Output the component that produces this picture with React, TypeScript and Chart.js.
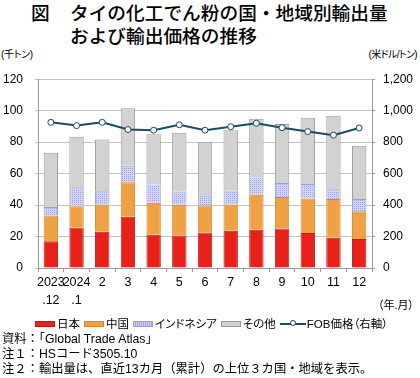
import React, { useEffect, useRef } from "react";
import { Chart, registerables } from "chart.js";

Chart.register(...registerables);

const categories: string[][] = [
  ["2023", ".12"], ["2024", ".1"], ["2"], ["3"], ["4"], ["5"], ["6"],
  ["7"], ["8"], ["9"], ["10"], ["11"], ["12"],
];
const japan = [17.0, 25.8, 23.1, 32.5, 21.2, 20.7, 22.6, 23.7, 24.3, 25.1, 22.2, 19.3, 18.5];
const china = [16.3, 13.4, 17.3, 22.0, 20.3, 19.5, 17.2, 16.7, 22.2, 20.1, 22.0, 24.5, 17.6];
const indonesia = [5.5, 12.1, 8.4, 10.5, 11.5, 8.4, 7.1, 8.8, 11.1, 8.8, 9.2, 6.3, 7.7];
const others = [34.5, 32.1, 32.9, 36.6, 32.0, 37.4, 33.1, 38.4, 37.3, 37.5, 42.1, 46.6, 33.9];
const fobPrice = [926, 905, 926, 880, 876, 910, 876, 898, 920, 892, 867, 844, 890];

const leftTicks = { min: 0, max: 120, step: 20 };
const rightTicks = { min: 0, max: 1200, step: 200 };

const JP = '"Liberation Sans", Arial, "Noto Sans CJK JP", sans-serif';

function makePattern(): CanvasPattern | string {
  const c = document.createElement("canvas");
  c.width = 2;
  c.height = 2;
  const g = c.getContext("2d");
  if (!g) return "#c8cbf0";
  g.fillStyle = "#d3d5f5";
  g.fillRect(0, 0, 2, 2);
  g.fillStyle = "#9da2e0";
  g.fillRect(0, 0, 1, 1);
  const p = g.createPattern(c, "repeat");
  return p || "#c8cbf0";
}

const legendItems = [
  { label: "日本", kind: "box", fill: "#e8221b", border: "#c41812" },
  { label: "中国", kind: "box", fill: "#f0a144", border: "#d8862c" },
  { label: "インドネシア", kind: "dots", fill: "#d3d5f5", border: "#9a9dd4" },
  { label: "その他", kind: "box", fill: "#d2d2d2", border: "#9a9a9a" },
  { label: "FOB価格（右軸）", kind: "line", fill: "#1d4a66", border: "#1d4a66" },
];

export default function App() {
  const ref = useRef<HTMLCanvasElement | null>(null);

  useEffect(() => {
    if (!ref.current) return;
    const pattern = makePattern();
    const barCommon = {
      type: "bar" as const,
      yAxisID: "y",
      stack: "s",
      order: 1,
      borderWidth: 1,
      barPercentage: 0.56,
      categoryPercentage: 1,
    };
    const chart = new Chart(ref.current, {
      type: "bar",
      data: {
        labels: categories,
        datasets: [
          { ...barCommon, label: "日本", data: japan, backgroundColor: "#e8221b", borderColor: "#c41812" },
          { ...barCommon, label: "中国", data: china, backgroundColor: "#f0a144", borderColor: "#d8862c" },
          { ...barCommon, label: "インドネシア", data: indonesia, backgroundColor: pattern as any, borderColor: "#9a9dd4" },
          { ...barCommon, label: "その他", data: others, backgroundColor: "#d2d2d2", borderColor: "#9a9a9a" },
          {
            type: "line",
            label: "FOB価格（右軸）",
            data: fobPrice,
            yAxisID: "y1",
            order: 0,
            borderColor: "#1d4a66",
            borderWidth: 2,
            pointRadius: 3,
            pointBorderWidth: 1,
            pointBackgroundColor: "#ffffff",
            pointBorderColor: "#1d4a66",
            tension: 0,
          } as any,
        ],
      },
      options: {
        responsive: false,
        animation: false,
        maintainAspectRatio: false,
        layout: { padding: { top: 17, left: 0, right: 0, bottom: 0 } },
        plugins: {
          legend: { display: false },
          tooltip: { enabled: false },
          title: { display: false },
        },
        scales: {
          x: {
            stacked: true,
            grid: {
              drawOnChartArea: false,
              drawTicks: true,
              tickLength: 4,
              color: "#9a9a9a",
              offset: true,
            },
            border: { display: true, color: "#9a9a9a" },
            ticks: {
              color: "#000",
              font: { family: JP, size: 12.5, lineHeight: 1.4 },
              padding: 2,
              maxRotation: 0,
              autoSkip: false,
            },
            afterFit: (s: any) => { s.height = 50; },
          },
          y: {
            position: "left",
            stacked: true,
            min: leftTicks.min,
            max: leftTicks.max,
            grid: { color: "#c4c4c4", tickLength: 3, drawTicks: true },
            border: { display: true, color: "#9a9a9a" },
            ticks: {
              stepSize: leftTicks.step,
              color: "#000",
              font: { family: JP, size: 12 },
              padding: 12,
            },
            afterFit: (s: any) => { s.width = 38; },
          },
          y1: {
            position: "right",
            min: rightTicks.min,
            max: rightTicks.max,
            grid: { drawOnChartArea: false, tickLength: 3, color: "#9a9a9a" },
            border: { display: true, color: "#9a9a9a" },
            ticks: {
              stepSize: rightTicks.step,
              color: "#000",
              font: { family: JP, size: 12 },
              padding: 8,
              callback: (v: any) => Number(v).toLocaleString("en-US"),
            },
            afterFit: (s: any) => { s.width = 48; },
          },
        },
      },
    });
    return () => chart.destroy();
  }, []);

  const jpText: React.CSSProperties = {
    fontFamily: JP,
    fontFeatureSettings: '"palt"',
    color: "#000",
    position: "absolute",
    whiteSpace: "nowrap",
  };

  return (
    <div style={{ position: "fixed", left: 0, top: 0, width: 420, height: 378, background: "#fff", overflow: "hidden" }}>
      <div style={{ ...jpText, fontFeatureSettings: "normal", fontFamily: '"Noto Sans CJK JP", sans-serif', fontWeight: 500, fontSize: 18.7, lineHeight: "23px", left: 31, top: 0 }}>図</div>
      <div style={{ ...jpText, fontFeatureSettings: "normal", fontFamily: '"Noto Sans CJK JP", sans-serif', fontWeight: 500, fontSize: 18.7, lineHeight: "23px", left: 70, top: 0 }}>
        タイの化工でん粉の国・地域別輸出量<br />および輸出価格の推移
      </div>
      <div style={{ ...jpText, fontSize: 10, letterSpacing: -0.3, lineHeight: "14px", left: 1, top: 48 }}>(千トン)</div>
      <div style={{ ...jpText, fontSize: 10, letterSpacing: -0.6, lineHeight: "14px", right: 3, top: 48 }}>(米ドル/トン)</div>
      <canvas ref={ref} width={420} height={258} style={{ position: "absolute", left: 0, top: 60, width: 420, height: 258 }} />
      <div style={{ ...jpText, fontSize: 11, lineHeight: "14px", right: 6, top: 298 }}>（年.月）</div>
      <div style={{ ...jpText, fontSize: 11.5, lineHeight: "14px", left: 35, top: 317, display: "flex", alignItems: "center" }}>
        {legendItems.map((it, i) => (
          <span key={i} style={{ display: "flex", alignItems: "center", marginRight: 4 }}>
            {it.kind === "line" ? (
              <span style={{ position: "relative", display: "inline-block", width: 26, height: 8, marginRight: 1 }}>
                <span style={{ position: "absolute", left: 0, top: 3, width: 26, height: 2, background: it.fill }} />
                <span style={{ position: "absolute", left: 10, top: 0, width: 4, height: 4, border: `1px solid ${it.border}`, borderRadius: "50%", background: "#fff" }} />
              </span>
            ) : (
              <span
                style={{
                  display: "inline-block",
                  width: 18,
                  height: 4,
                  marginRight: 2,
                  background: it.kind === "dots"
                    ? `repeating-linear-gradient(90deg, ${it.fill} 0px, ${it.fill} 1px, #9da2e0 1px, #9da2e0 2px)`
                    : it.fill,
                  border: `1px solid ${it.border}`,
                }}
              />
            )}
            <span>{it.label}</span>
          </span>
        ))}
      </div>
      <div style={{ ...jpText, fontFeatureSettings: "normal", fontSize: 12.3, lineHeight: "15px", left: 2, top: 332 }}>
        資料：「Global Trade Atlas」<br />
        注１：HSコード3505.10<br />
        注２：輸出量は、直近13カ月（累計）の上位３カ国・地域を表示。
      </div>
    </div>
  );
}
